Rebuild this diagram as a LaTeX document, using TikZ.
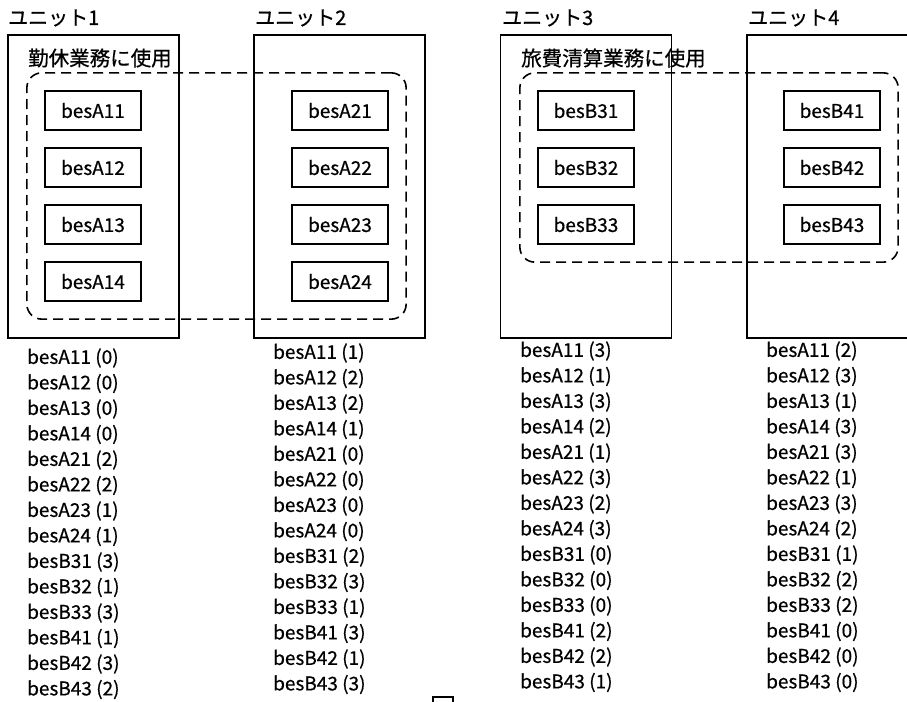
\documentclass[tikz,border=0pt]{standalone}
\usepackage{fontspec}
\setmainfont{Noto Sans CJK JP}[FakeBold=0.6]
\usetikzlibrary{fit}

\begin{document}
\begin{tikzpicture}[x=1pt, y=-1pt,
    unitbox/.style={draw, line width=1.5pt, minimum width=171pt, minimum height=303pt, inner sep=0pt},
    besbox/.style={draw, line width=1.3pt, minimum width=96pt, minimum height=39pt, inner sep=0pt, font=\fontsize{19}{22}\selectfont},
    grpbox/.style={draw, line width=1.6pt, dash pattern=on 10pt off 6pt, rounded corners=15pt, inner sep=17.5pt},
    unitlabel/.style={anchor=west, inner sep=0pt, font=\fontsize{20}{24}\selectfont},
    grplabel/.style={anchor=west, inner sep=0pt, font=\fontsize{20.5}{24}\selectfont},
    listtext/.style={anchor=west, inner sep=0pt, font=\fontsize{19}{22}\selectfont}]
    \clip (0,0) rectangle (907,701);

    % Units
    \node[unitbox] (unit1) at (93.5,186.5) {};
    \node[unitbox] (unit2) at (339.5,186.5) {};
    \node[unitbox] (unit3) at (586,186.5) {};
    \node[unitbox] (unit4) at (832.5,186.5) {};
    \node[unitlabel] (name1) at (8,18) {ユニット1};
    \node[unitlabel] (name2) at (255,18) {ユニット2};
    \node[unitlabel] (name3) at (502,18) {ユニット3};
    \node[unitlabel] (name4) at (748,18) {ユニット4};

    % Servers of group A
    \foreach \k/\y in {11/110.5, 12/167.5, 13/224.5, 14/281.5} {
        \node[besbox] (a\k) at (93,\y) {besA\k};
    }
    \foreach \k/\y in {21/110.5, 22/167.5, 23/224.5, 24/281.5} {
        \node[besbox] (a\k) at (340,\y) {besA\k};
    }
    \node[grpbox, fit=(a11)(a24)(a21)] (grpA) {};
    \node[grplabel] (useA) at (28,58) {勤休業務に使用};

    % Servers of group B
    \foreach \k/\y in {31/110.5, 32/167.5, 33/224.5} {
        \node[besbox] (b\k) at (586,\y) {besB\k};
    }
    \foreach \k/\y in {41/110.5, 42/167.5, 43/224.5} {
        \node[besbox] (b\k) at (832,\y) {besB\k};
    }
    \node[grpbox, fit=(b31)(b43)(b41)] (grpB) {};
    \node[grplabel] (useB) at (521,58) {旅費清算業務に使用};

    % Lists under the units
    \foreach \n/\v [count=\k] in {A11/0, A12/0, A13/0, A14/0, A21/2, A22/2, A23/1,
        A24/1, B31/3, B32/1, B33/3, B41/1, B42/3, B43/2} {
        \node[listtext] (listA-\k) at (27, {358+25.5*(\k-1)}) {bes\n{} (\v)};
    }
    \foreach \n/\v [count=\k] in {A11/1, A12/2, A13/2, A14/1, A21/0, A22/0, A23/0,
        A24/0, B31/2, B32/3, B33/1, B41/3, B42/1, B43/3} {
        \node[listtext] (listB-\k) at (273, {353+25.5*(\k-1)}) {bes\n{} (\v)};
    }
    \foreach \n/\v [count=\k] in {A11/3, A12/1, A13/3, A14/2, A21/1, A22/3, A23/2,
        A24/3, B31/0, B32/0, B33/0, B41/2, B42/2, B43/1} {
        \node[listtext] (listC-\k) at (520, {351+25.5*(\k-1)}) {bes\n{} (\v)};
    }
    \foreach \n/\v [count=\k] in {A11/2, A12/3, A13/1, A14/3, A21/3, A22/1, A23/3,
        A24/2, B31/1, B32/2, B33/2, B41/0, B42/0, B43/0} {
        \node[listtext] (listD-\k) at (766, {351+25.5*(\k-1)}) {bes\n{} (\v)};
    }

    % cut-off box at the bottom edge
    \node[draw, line width=1.3pt, minimum width=20pt, minimum height=20pt] (cut) at (443,707) {};
\end{tikzpicture}
\end{document}
